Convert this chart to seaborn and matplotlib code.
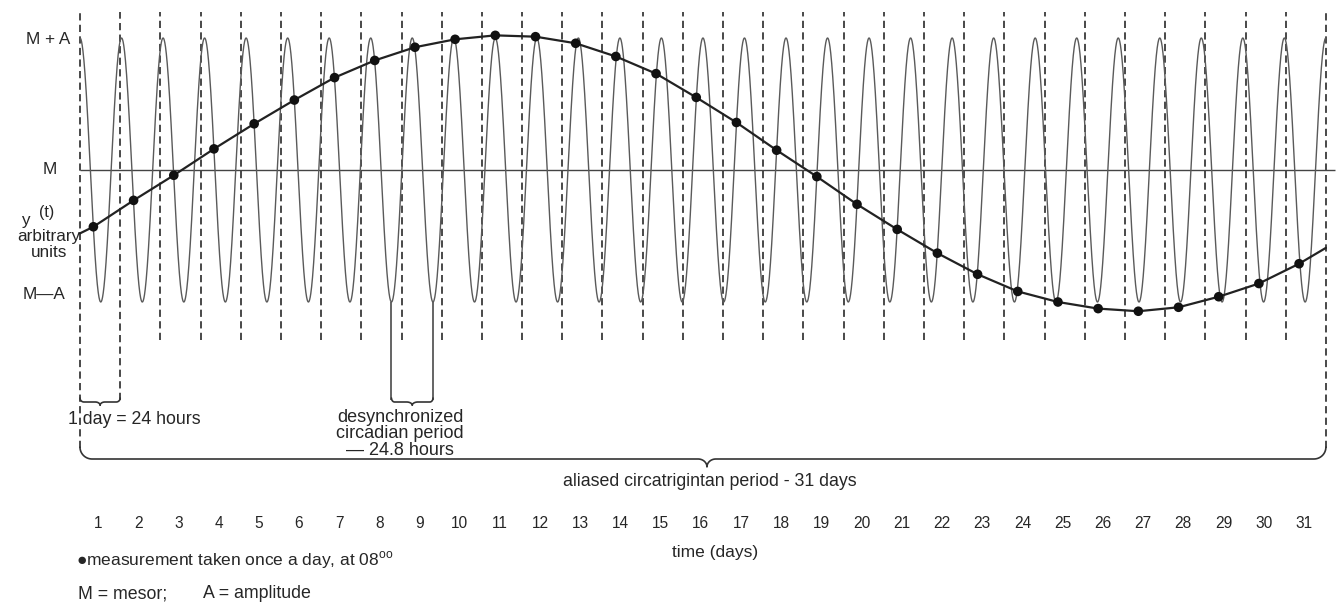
import numpy as np
import pandas as pd
import seaborn as sns
import matplotlib.pyplot as plt

# cosinor model of the drawing, value units: mesor M = 0, amplitude A = 1
mesor = 0.0
amplitude = 1.0
period_hours = 24.8
n_days = 31
sample_hour = 8

day_labels = [str(d) for d in range(1, n_days + 1)]

# one reading a day at 08:00 (in units of A around M)
measured = [-0.43, -0.23, -0.04, 0.16, 0.35, 0.53, 0.70, 0.83, 0.93, 0.99,
            1.02, 1.01, 0.96, 0.86, 0.73, 0.55, 0.36, 0.15, -0.05, -0.26,
            -0.45, -0.63, -0.79, -0.92, -1.00, -1.05, -1.07, -1.04, -0.96, -0.86,
            -0.71]
curve_start = -0.48
curve_end = -0.59

W, H = 1337, 605
X0, PX_DAY = 80, 40.19       # pixel of day 0 and pixels per day
Y_M, PX_A = 170, 132         # pixel of mesor and pixels per amplitude


def vy(py):
    return (Y_M - py) / PX_A


def fx(px):
    return px / W


def fy(py):
    return 1 - py / H


sns.set_theme(style="white")
plt.rcParams["font.family"] = ["Liberation Sans", "DejaVu Sans"]
plt.rcParams["mathtext.fontset"] = "custom"
plt.rcParams["mathtext.rm"] = "Liberation Sans"

fig = plt.figure(figsize=(W / 100, H / 100), dpi=100)
ax = fig.add_axes([0, 0, 1, 1])
ax.set_xlim(-X0 / PX_DAY, (W - X0) / PX_DAY)
ax.set_ylim(vy(H), vy(0))
ax.axis("off")

period_days = period_hours / 24
t = np.linspace(0, n_days, 8000)
fast = pd.DataFrame({"t": t, "y": mesor + amplitude * np.cos(2 * np.pi * t / period_days)})

sample_t = np.arange(n_days) + sample_hour / 24
dots = pd.DataFrame({"t": sample_t, "y": measured})
slow = pd.DataFrame({"t": np.r_[0, sample_t, n_days],
                     "y": [curve_start] + measured + [curve_end]})

ink = "#262626"

# day boundaries (midnight)
bounds = np.arange(n_days + 1)
bottoms = np.full(n_days + 1, vy(340))
bottoms[1] = vy(400)
bottoms[0] = vy(448)
bottoms[-1] = vy(448)
ax.vlines(bounds, bottoms, vy(12), colors="#3a3a3a", lw=1.3,
          linestyles=(0, (4, 2.4)), zorder=1)

# mesor line
ax.hlines(mesor, 0, (1335 - X0) / PX_DAY, colors="#444444", lw=1.0, zorder=2)

sns.lineplot(data=fast, x="t", y="y", ax=ax, color="#5a5a5a", lw=1.0,
             estimator=None, zorder=3)
sns.lineplot(data=slow, x="t", y="y", ax=ax, color="#222222", lw=1.6,
             estimator=None, zorder=4)
sns.scatterplot(data=dots, x="t", y="y", ax=ax, color="#111111", s=48,
                edgecolor="none", zorder=5)


def brace(x0, x1, y, tip, rx, ry, trx, th):
    a = np.linspace(np.pi, 1.5 * np.pi, 20)
    xs = list(x0 + rx + rx * np.cos(a))
    ys = list(y + ry + ry * np.sin(a))
    a = np.linspace(0.5 * np.pi, 0, 15)
    xs += list(tip - trx + trx * np.cos(a))
    ys += list(y - th + th * np.sin(a))
    a = np.linspace(np.pi, 0.5 * np.pi, 15)
    xs += list(tip + trx + trx * np.cos(a))
    ys += list(y - th + th * np.sin(a))
    a = np.linspace(1.5 * np.pi, 2 * np.pi, 20)
    xs += list(x1 - rx + rx * np.cos(a))
    ys += list(y + ry + ry * np.sin(a))
    ax.plot(xs, ys, color="#333333", lw=1.2, zorder=2)


# 1 day brace
brace(0, 1, vy(402), 0.5, 0.1, 0.03, 0.12, 0.025)

# desynchronized period brace, between two troughs
tr0, tr1 = 7.5 * period_days, 8.5 * period_days
ax.vlines([tr0, tr1], vy(400), -amplitude, colors="#3a3a3a", lw=1.1, zorder=2)
brace(tr0, tr1, vy(402), (tr0 + tr1) / 2, 0.08, 0.03, 0.14, 0.025)

# aliased period brace
brace(0, n_days, vy(459), 15.6, 0.3, 0.09, 0.22, 0.06)

txt = dict(color=ink)
fig.text(fx(48), fy(39), "M + A", ha="center", va="center", fontsize=12.3, **txt)
fig.text(fx(50), fy(169), "M", ha="center", va="center", fontsize=12.3, **txt)
fig.text(fx(25), fy(220), "y", ha="center", va="center", fontsize=12.3, **txt)
fig.text(fx(47), fy(213), "(t)", ha="center", va="center", fontsize=11.5, **txt)
fig.text(fx(49), fy(236), "arbitrary", ha="center", va="center", fontsize=12.3, **txt)
fig.text(fx(49), fy(252), "units", ha="center", va="center", fontsize=12.3, **txt)
fig.text(fx(44), fy(295), "M\u2014A", ha="center", va="center", fontsize=12.3, **txt)

fig.text(fx(68), fy(420), "1 day = 24 hours", ha="left", va="center", fontsize=12.8, **txt)
fig.text(fx(400), fy(434), "desynchronized\ncircadian period\n\u2014 24.8 hours",
         ha="center", va="center", fontsize=13, linespacing=0.98, **txt)
fig.text(fx(563), fy(481), "aliased circatrigintan period - 31 days",
         ha="left", va="center", fontsize=12.8, **txt)

for d, lab in enumerate(day_labels):
    ax.text(d + 0.45, fy(523), lab, ha="center", va="center", fontsize=11.2,
            transform=ax.get_xaxis_transform(), **txt)

fig.text(fx(672), fy(552), "time (days)", ha="left", va="center", fontsize=12.5, **txt)
fig.text(fx(76), fy(560), "\u25cfmeasurement taken once a day, at 08$^{\\rm oo}$",
         ha="left", va="center", fontsize=12.5, **txt)
fig.text(fx(78), fy(594), "M = mesor;", ha="left", va="center", fontsize=12.8, **txt)
fig.text(fx(203), fy(594), "A = amplitude", ha="left", va="center", fontsize=12.8, **txt)

fig.savefig("out.png", dpi=100, facecolor="white")
